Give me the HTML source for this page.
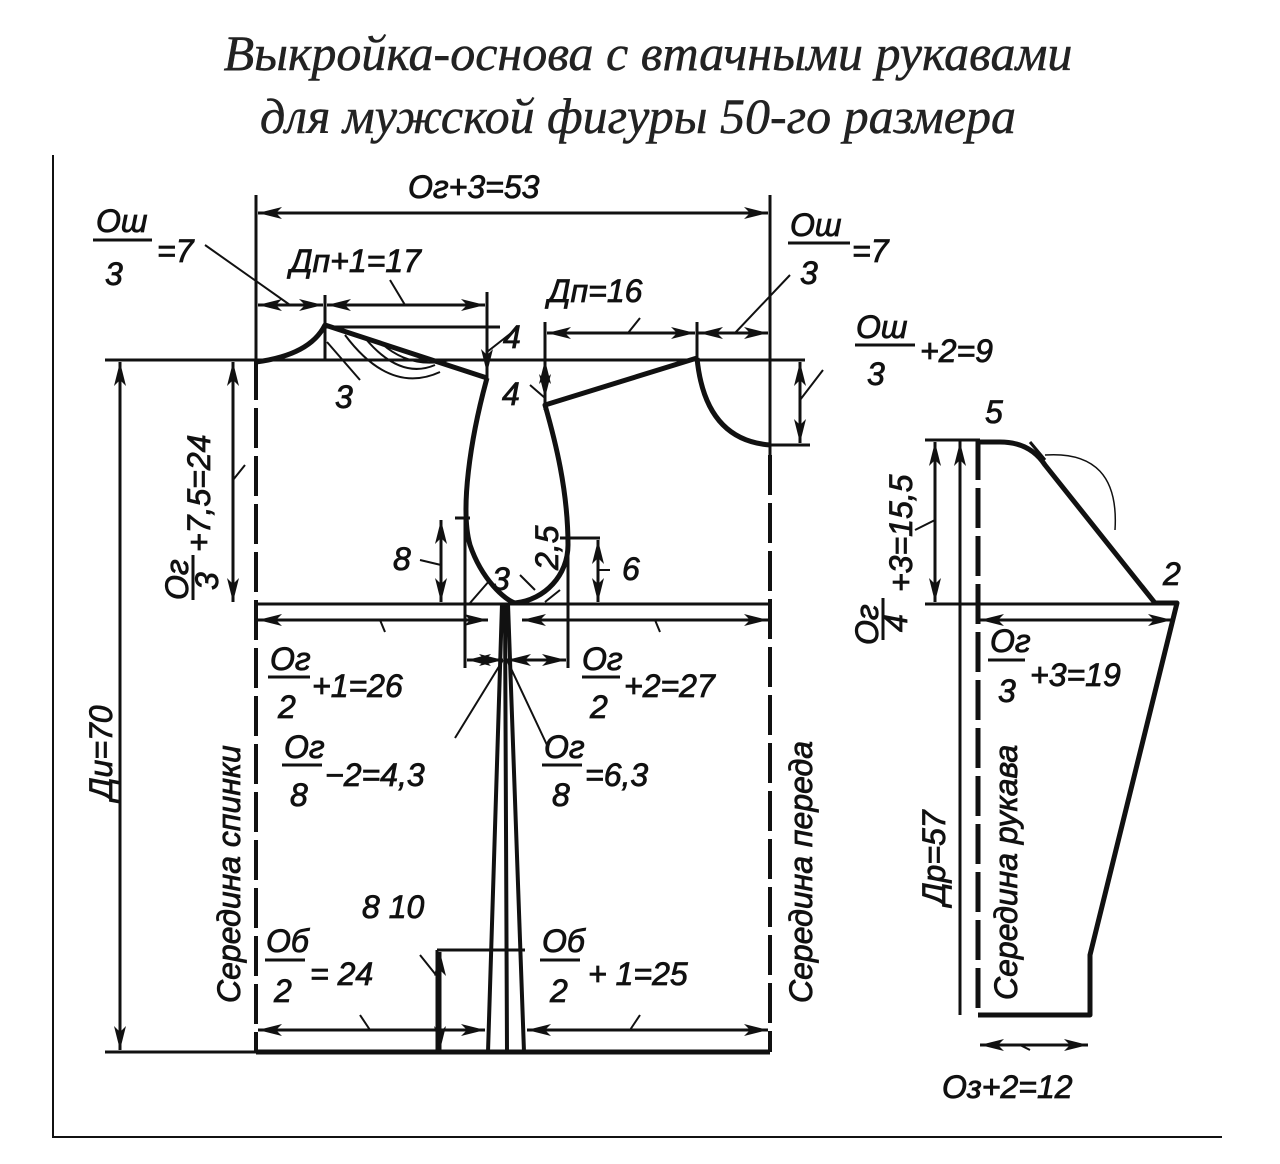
<!DOCTYPE html>
<html><head><meta charset="utf-8"><style>
html,body{margin:0;padding:0;background:#fff}
svg{display:block}
text{font-family:"Liberation Sans",sans-serif;font-style:italic;fill:#111}
.t{font-family:"Liberation Serif",serif;font-size:50px;fill:#222;stroke:#222;stroke-width:0.5}
.l{font-size:32px;stroke:#111;stroke-width:0.8}
</style></head><body>
<svg width="1280" height="1164" viewBox="0 0 1280 1164" xmlns="http://www.w3.org/2000/svg">
<defs>
<marker id="a" viewBox="0 0 24 12" refX="24" refY="6" markerWidth="24" markerHeight="12" markerUnits="userSpaceOnUse" orient="auto-start-reverse"><path d="M0,0 L24,6 L0,12 L6,6z" fill="#111"/></marker>
</defs>
<rect width="1280" height="1164" fill="#fff"/>
<text class="t" x="648" y="70" text-anchor="middle">Выкройка-основа с втачными рукавами</text>
<text class="t" x="638" y="133" text-anchor="middle">для мужской фигуры 50-го размера</text>
<g stroke="#111" fill="none">
<path d="M53,155 V1137 H1222" stroke-width="2"/>
<g stroke-width="3">
<path d="M105,360 H805"/>
<path d="M256,195 V360 M770,195 V455"/>
<path d="M256,604 H770"/>
<path d="M105,1052 H256"/>
<path d="M325,295 V360 M325,327 H500 M487,292 V380"/>
<path d="M545,322 V410 M697,322 V362 M697,333 H720"/>
<path d="M770,445 H810"/>
<path d="M465,518 V668 M455,518 H470 M568,538 V668 M560,538 H600"/>
<path d="M437,950 H525 M437,950 V1052"/>
<path d="M925,440 H980 M925,604 H1160 M960,440 V1015"/>
</g>
<g stroke-width="3" marker-start="url(#a)" marker-end="url(#a)">
<path d="M258,213 H768"/>
<path d="M120,362 V1050"/>
<path d="M233,362 V602"/>
<path d="M258,305 H323"/>
<path d="M327,305 H485"/>
<path d="M547,333 H695"/>
<path d="M699,333 H768"/>
<path d="M800,362 V443"/>
<path d="M258,620 H488"/>
<path d="M522,620 H768"/>
<path d="M467,660 H503"/>
<path d="M507,660 H566"/>
<path d="M441,520 V602"/>
<path d="M598,540 V602"/>
<path d="M258,1030 H485"/>
<path d="M527,1030 H768"/>
<path d="M440,952 V1050"/>
<path d="M935,442 V602"/>
<path d="M980,620 H1172"/>
<path d="M980,1045 H1088"/>
<path d="M960,442 V1013" marker-end="none"/>
<path d="M487,327 V373" marker-start="none"/>
<path d="M545,360 V398"/>
</g>
<g stroke-width="2">
<path d="M205,245 L290,305 M790,275 L735,333 M823,370 L800,400"/>
<path d="M390,280 L405,305 M640,318 L628,333 M515,330 L487,352 M530,385 L545,398"/>
<path d="M360,380 L327,342 M245,465 L233,480 M420,560 L441,565 M610,570 L598,570"/>
<path d="M385,632 L380,620 M660,632 L655,620 M455,738 L503,660 M547,745 L507,660"/>
<path d="M630,1030 L640,1015 M360,1015 L370,1030 M420,955 L440,980"/>
<path d="M915,530 L935,520 M1030,1050 L1020,1045 M520,575 L535,590 M490,580 L470,603 M560,590 L545,602"/>
</g>
<path d="M256,360 V1052 M770,455 V1052" stroke-width="4" stroke-dasharray="40,8"/>
<path d="M978,440 V1015" stroke-width="5" stroke-dasharray="40,8"/>
<g stroke-width="5" stroke-linejoin="round">
<path d="M256,362 Q310,355 325,325 L487,378"/>
<path d="M487,378 C470,440 460,510 470,545 C482,580 505,600 515,603 C545,600 568,575 568,545 C568,490 555,440 545,405 L697,358"/>
<path d="M697,358 Q705,440 770,445"/>
<path d="M502,604 L488,1052 M505,604 L507,1052 M508,604 L524,1052" stroke-width="4"/>
<path d="M256,1052 H770"/>
<path d="M978,442 H1000 Q1030,442 1045,465 L1155,603 H1177 L1090,955 V1015 H978"/>
<path d="M1030,442 L1045,460" stroke-width="3"/>
</g>
<path d="M345,335 Q390,395 440,372 M365,338 Q400,380 435,365 M380,342 Q410,370 450,360" stroke-width="2"/>
<path d="M1045,455 Q1120,450 1115,530" stroke-width="1.5"/>
<g stroke-width="3">
<path d="M93,240 H152 M788,243 H850 M855,345 H915"/>
<path d="M268,677 H310 M582,677 H620 M282,765 H322 M542,765 H582 M265,960 H305 M540,960 H580 M988,660 H1025"/>
<path d="M193,555 V600 M883,598 V640"/>
</g>
</g>
<g class="l">
<text x="408" y="198">Ог+3=53</text>
<text x="96" y="232">Ош</text><text x="105" y="285">3</text><text x="157" y="262">=7</text>
<text x="290" y="272">Дп+1=17</text>
<text x="790" y="236">Ош</text><text x="800" y="284">3</text><text x="852" y="262">=7</text>
<text x="548" y="302">Дп=16</text>
<text x="856" y="338">Ош</text><text x="867" y="385">3</text><text x="920" y="362">+2=9</text>
<text x="503" y="348">4</text><text x="502" y="405">4</text><text x="335" y="408">3</text>
<text x="393" y="570">8</text><text x="492" y="590">3</text><text x="622" y="580">6</text>
<text transform="translate(558,570) rotate(-90)">2,5</text>
<text transform="translate(188,600) rotate(-90)">Ог</text>
<text transform="translate(218,590) rotate(-90)">3</text>
<text transform="translate(210,552) rotate(-90)">+7,5=24</text>
<text x="270" y="670">Ог</text><text x="278" y="718">2</text><text x="312" y="697">+1=26</text>
<text x="582" y="670">Ог</text><text x="590" y="718">2</text><text x="624" y="697">+2=27</text>
<text x="284" y="758">Ог</text><text x="290" y="806">8</text><text x="325" y="786">−2=4,3</text>
<text x="544" y="758">Ог</text><text x="552" y="806">8</text><text x="585" y="786">=6,3</text>
<text x="362" y="918">8 10</text>
<text x="266" y="952">Об</text><text x="274" y="1002">2</text><text x="310" y="985">= 24</text>
<text x="542" y="952">Об</text><text x="550" y="1002">2</text><text x="588" y="985">+ 1=25</text>
<text transform="translate(112,800) rotate(-90)">Ди=70</text>
<text transform="translate(240,1003) rotate(-90)">Середина  спинки</text>
<text transform="translate(812,1003) rotate(-90)">Середина  переда</text>
<text x="985" y="423">5</text><text x="1163" y="585">2</text>
<text transform="translate(878,645) rotate(-90)">Ог</text>
<text transform="translate(907,632) rotate(-90)">4</text>
<text transform="translate(912,592) rotate(-90)">+3=15,5</text>
<text x="990" y="652">Ог</text><text x="998" y="702">3</text><text x="1030" y="686">+3=19</text>
<text transform="translate(945,905) rotate(-90)">Др=57</text>
<text transform="translate(1017,1000) rotate(-90)">Середина рукава</text>
<text x="942" y="1098">Оз+2=12</text>
</g>
</svg>
</body></html>
